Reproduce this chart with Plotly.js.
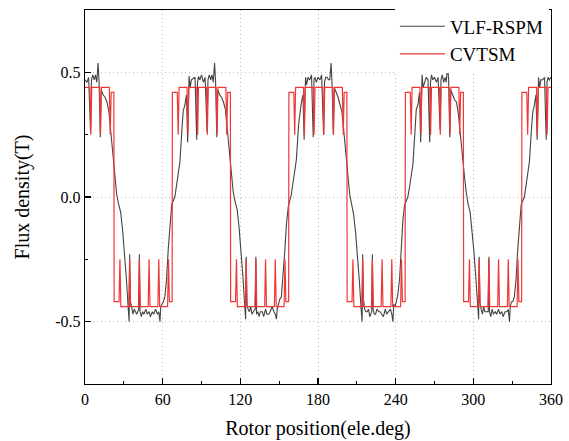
<!DOCTYPE html>
<html><head><meta charset="utf-8">
<script src="https://cdn.plot.ly/plotly-3.0.1.min.js"></script>
<style>html,body{margin:0;padding:0;background:#fff}#chart{width:569px;height:441px}</style>
</head><body><div id="chart"></div>
<script>
// VLF-RSPM (grey, measured-looking waveform)
const vlfX = [
 0,1.5,2.8,4.3,5,6,7.1,8.1,9.1,10.1,10.9,11.8,12.5,14,15.5,
 17,18.5,20,21.5,23,24.5,26,27.5,29,30.5,32,33.3,34.1,34.5,35.1,36,37,38,39,40,41.5,42,42.5,43.5,44.5,45.5,47,48,49.5,50.5,52,53,54.5,56,57,57.9,58.5,59.5,60.5,61.7,
 63,64.3,65.6,67,69.4,71,73.3,75,75.9,77.2,78.4,79.3,79.9,80.4,81.2,82.2,83.6,85,86.3,86.9,87.7,88.7,90,91.5,92.8,94.3,95,96,97.1,98.1,99.1,100.1,100.9,101.8,102.5,104,105.5,
 107,108.5,110,111.5,113,114.5,116,117.5,119,120.5,122,123.3,124.1,124.5,125.1,126,127,128,129,130,131.5,132,132.5,133.5,134.5,135.5,137,138,139.5,140.5,142,143,144.5,146,147,147.9,148.5,149.5,150.5,151.7,
 153,154.3,155.6,157,159.4,161,163.3,165,165.9,167.2,168.4,169.3,169.9,170.4,171.2,172.2,173.6,175,176.3,176.9,177.7,178.7,180,181.5,182.8,184.3,185,186,187.1,188.1,189.1,190.1,190.9,191.8,192.5,194,195.5,
 197,198.5,200,201.5,203,204.5,206,207.5,209,210.5,212,213.3,214.1,214.5,215.1,216,217,218,219,220,221.5,222,222.5,223.5,224.5,225.5,227,228,229.5,230.5,232,233,234.5,236,237,237.9,238.5,239.5,240.5,241.7,
 243,244.3,245.6,247,249.4,251,253.3,255,255.9,257.2,258.4,259.3,259.9,260.4,261.2,262.2,263.6,265,266.3,266.9,267.7,268.7,270,271.5,272.8,274.3,275,276,277.1,278.1,279.1,280.1,280.9,281.8,282.5,284,285.5,
 287,288.5,290,291.5,293,294.5,296,297.5,299,300.5,302,303.3,304.1,304.5,305.1,306,307,308,309,310,311.5,312,312.5,313.5,314.5,315.5,317,318,319.5,320.5,322,323,324.5,326,327,327.9,328.5,329.5,330.5,331.7,
 333,334.3,335.6,337,339.4,341,343.3,345,345.9,347.2,348.4,349.3,349.9,350.4,351.2,352.2,353.6,355,356.3,356.9,357.7,358.7,360
];
const vlfY = [
 0.47,0.46,0.48,0.26,0.47,0.49,0.47,0.49,0.46,0.537,0.46,0.24,0.43,0.41,0.40,
 0.38,0.34,0.26,0.17,0.09,0.01,-0.03,-0.06,-0.13,-0.22,-0.33,-0.44,-0.50,-0.23,-0.42,-0.44,-0.47,-0.45,-0.46,-0.47,-0.45,-0.23,-0.46,-0.48,-0.46,-0.47,-0.45,-0.47,-0.46,-0.48,-0.46,-0.47,-0.45,-0.47,-0.46,-0.50,-0.44,-0.43,-0.42,-0.40,
 -0.33,-0.21,-0.10,-0.03,0.00,0.06,0.14,0.28,0.345,0.37,0.41,0.22,0.40,0.485,0.44,0.47,0.475,0.48,0.23,0.46,0.483,0.47,0.49,0.46,0.48,0.26,0.47,0.49,0.47,0.49,0.46,0.537,0.46,0.24,0.43,0.41,0.40,
 0.38,0.35,0.27,0.18,0.10,0.02,-0.02,-0.05,-0.12,-0.21,-0.32,-0.43,-0.49,-0.24,-0.43,-0.45,-0.46,-0.44,-0.47,-0.46,-0.45,-0.24,-0.47,-0.46,-0.48,-0.46,-0.46,-0.48,-0.45,-0.47,-0.47,-0.46,-0.44,-0.46,-0.47,-0.49,-0.45,-0.43,-0.41,-0.40,
 -0.32,-0.22,-0.11,-0.04,0.01,0.07,0.15,0.29,0.34,0.38,0.41,0.23,0.41,0.48,0.45,0.48,0.47,0.49,0.24,0.47,0.48,0.46,0.48,0.47,0.49,0.25,0.46,0.48,0.48,0.47,0.47,0.537,0.45,0.25,0.44,0.42,0.40,
 0.37,0.34,0.26,0.17,0.09,0.01,-0.03,-0.07,-0.14,-0.23,-0.34,-0.45,-0.50,-0.23,-0.41,-0.45,-0.46,-0.46,-0.45,-0.48,-0.46,-0.23,-0.45,-0.47,-0.47,-0.45,-0.46,-0.46,-0.47,-0.48,-0.45,-0.47,-0.46,-0.45,-0.47,-0.50,-0.43,-0.44,-0.42,-0.39,
 -0.33,-0.20,-0.09,-0.03,0.00,0.05,0.13,0.27,0.35,0.37,0.42,0.22,0.40,0.49,0.44,0.46,0.48,0.47,0.22,0.46,0.49,0.47,0.48,0.46,0.48,0.27,0.47,0.49,0.46,0.48,0.46,0.535,0.47,0.24,0.43,0.41,0.39,
 0.38,0.33,0.25,0.16,0.09,0.02,-0.03,-0.06,-0.13,-0.22,-0.33,-0.44,-0.49,-0.24,-0.42,-0.45,-0.47,-0.44,-0.46,-0.46,-0.46,-0.24,-0.46,-0.48,-0.45,-0.47,-0.46,-0.47,-0.45,-0.47,-0.46,-0.48,-0.46,-0.46,-0.45,-0.50,-0.44,-0.42,-0.42,-0.40,
 -0.33,-0.21,-0.10,-0.03,0.00,0.06,0.14,0.28,0.34,0.37,0.41,0.23,0.40,0.48,0.44,0.47,0.47,0.48,0.23,0.46,0.48,0.47,0.48
];
// CVTSM (red, square wave with slot dips)
const cvtX = [
 0,3.8,4.5,5.2,11.3,12,12.7,18.8,19.5,20.2,22.3,
 22.5,26.3,27,27.7,33.8,34.5,35.2,41.3,42,42.7,48.8,49.5,50.2,56.3,57,57.7,63.8,64.5,65.2,67.3,
 67.5,71.3,72,72.7,78.8,79.5,80.2,86.3,87,87.7,93.8,94.5,95.2,101.3,102,102.7,108.8,109.5,110.2,112.3,
 112.5,116.3,117,117.7,123.8,124.5,125.2,131.3,132,132.7,138.8,139.5,140.2,146.3,147,147.7,153.8,154.5,155.2,157.3,
 157.5,161.3,162,162.7,168.8,169.5,170.2,176.3,177,177.7,183.8,184.5,185.2,191.3,192,192.7,198.8,199.5,200.2,202.3,
 202.5,206.3,207,207.7,213.8,214.5,215.2,221.3,222,222.7,228.8,229.5,230.2,236.3,237,237.7,243.8,244.5,245.2,247.3,
 247.5,251.3,252,252.7,258.8,259.5,260.2,266.3,267,267.7,273.8,274.5,275.2,281.3,282,282.7,288.8,289.5,290.2,292.3,
 292.5,296.3,297,297.7,303.8,304.5,305.2,311.3,312,312.7,318.8,319.5,320.2,326.3,327,327.7,333.8,334.5,335.2,337.3,
 337.5,341.3,342,342.7,348.8,349.5,350.2,356.3,357,357.7,360
];
const cvtY = [
 0.44,0.44,0.25,0.44,0.44,0.25,0.44,0.44,0.25,0.42,0.42,
 -0.42,-0.42,-0.25,-0.44,-0.44,-0.25,-0.44,-0.44,-0.25,-0.44,-0.44,-0.25,-0.44,-0.44,-0.25,-0.44,-0.44,-0.25,-0.42,-0.42,
 0.42,0.42,0.25,0.44,0.44,0.25,0.44,0.44,0.25,0.44,0.44,0.25,0.44,0.44,0.25,0.44,0.44,0.25,0.42,0.42,
 -0.42,-0.42,-0.25,-0.44,-0.44,-0.25,-0.44,-0.44,-0.25,-0.44,-0.44,-0.25,-0.44,-0.44,-0.25,-0.44,-0.44,-0.25,-0.42,-0.42,
 0.42,0.42,0.25,0.44,0.44,0.25,0.44,0.44,0.25,0.44,0.44,0.25,0.44,0.44,0.25,0.44,0.44,0.25,0.42,0.42,
 -0.42,-0.42,-0.25,-0.44,-0.44,-0.25,-0.44,-0.44,-0.25,-0.44,-0.44,-0.25,-0.44,-0.44,-0.25,-0.44,-0.44,-0.25,-0.42,-0.42,
 0.42,0.42,0.25,0.44,0.44,0.25,0.44,0.44,0.25,0.44,0.44,0.25,0.44,0.44,0.25,0.44,0.44,0.25,0.42,0.42,
 -0.42,-0.42,-0.25,-0.44,-0.44,-0.25,-0.44,-0.44,-0.25,-0.44,-0.44,-0.25,-0.44,-0.44,-0.25,-0.44,-0.44,-0.25,-0.42,-0.42,
 0.42,0.42,0.25,0.44,0.44,0.25,0.44,0.44,0.25,0.44,0.44
];
const seriesNames = ['VLF-RSPM', 'CVTSM'];
const xTicks = [0, 60, 120, 180, 240, 300, 360];
const yTicks = [-0.5, 0.0, 0.5];
const yTickText = ['-0.5', '0.0', '0.5'];

const font = 'Liberation Serif, Times New Roman, serif';
const traces = [
  {x: vlfX, y: vlfY, name: seriesNames[0], type: 'scatter', mode: 'lines',
   line: {color: '#444444', width: 1.1}},
  {x: cvtX, y: cvtY, name: seriesNames[1], type: 'scatter', mode: 'lines',
   line: {color: 'rgb(240,55,55)', width: 1.2}}
];
const axisCommon = {
  showline: true, linecolor: '#000', linewidth: 1.3, mirror: true,
  ticks: 'inside', ticklen: 6, tickwidth: 1.3, tickcolor: '#000',
  showgrid: true, gridcolor: '#bdbdbd', griddash: '1px,3px', gridwidth: 1,
  zeroline: false, tickfont: {family: font, size: 16, color: '#000'}
};
const layout = {
  width: 569, height: 441,
  margin: {l: 85, r: 18, t: 7, b: 57},
  paper_bgcolor: '#fff', plot_bgcolor: '#fff',
  showlegend: true,
  legend: {x: 0.665, y: 1.007, xanchor: 'left', yanchor: 'top', bgcolor: 'rgba(255,255,255,1)',
           font: {family: font, size: 19, color: '#000'}, itemwidth: 45, tracegroupgap: 0},
  xaxis: Object.assign({}, axisCommon, {
    range: [0, 360], tickvals: xTicks, ticktext: xTicks.map(String),
    minor: {ticks: 'inside', ticklen: 3, tickwidth: 1.2, tickcolor: '#000', dtick: 30, tick0: 0, showgrid: false},
    title: {text: 'Rotor position(ele.deg)', font: {family: font, size: 20, color: '#000'}, standoff: 14}
  }),
  yaxis: Object.assign({}, axisCommon, {
    range: [-0.75, 0.75], tickvals: yTicks, ticktext: yTickText,
    minor: {ticks: 'inside', ticklen: 3, tickwidth: 1.2, tickcolor: '#000', dtick: 0.25, tick0: 0, showgrid: false},
    title: {text: 'Flux density(T)', font: {family: font, size: 20, color: '#000'}, standoff: 20}
  })
};
Plotly.newPlot('chart', traces, layout, {displayModeBar: false, staticPlot: true});
</script>
</body></html>
